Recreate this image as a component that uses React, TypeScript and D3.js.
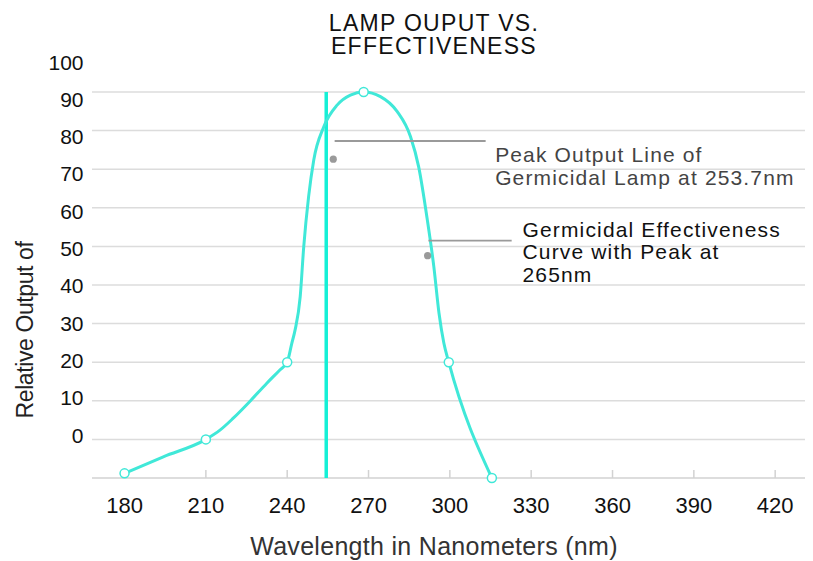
import React from 'react'
import * as d3 from "d3";

// marked points on the germicidal effectiveness curve (wavelength nm, relative output)
const markerWavelengths = [180, 210, 240, 268.2, 299.6, 315.5]
const markerValues = [-8.8, 0, 20, 90, 20, -10]

// points
const curveWavelengths = [180, 194.3, 210, 215.2, 220.1, 226.3, 232.4, 237.3, 240, 241.7, 242.9, 244.8, 246.1, 247.9, 249.8, 253.5, 258.4, 263.3, 268.2, 274.4, 280.6, 285.5, 288.5, 291.7, 294.1, 296, 297.8, 299.6, 315.5]
const curveValues = [-8.8, -4.5, 0, 2.4, 5.5, 9.9, 14.5, 18, 20, 24.9, 28.3, 37, 49.9, 62.9, 72.4, 81, 86.6, 89.2, 90, 88.8, 84.9, 78.4, 70.6, 56.8, 44.7, 32.7, 24.9, 20, -10]

// lamp peak output line
const lampPeak = 254.4

const xTicks = [180, 210, 240, 270, 300, 330, 360, 390, 420]
const gridValues = [-10, 0, 10, 20, 30, 40, 50, 60, 70, 80, 90]
const yTickLabels = [0, 10, 20, 30, 40, 50, 60, 70, 80, 90, 100]

const titleLines = ["LAMP OUPUT VS.", "EFFECTIVENESS"]
const peakNote = ["Peak Output Line of", "Germicidal Lamp at 253.7nm"]
const curveNote = ["Germicidal Effectiveness", "Curve with Peak at", "265nm"]

const font = "'Liberation Sans', Arial, Helvetica, sans-serif"
const curveColor = "#40e8d8"
const lineColor = "#14f0d6"
const noteGray = "#9a9a9a"

function drawChart(svgRef: React.RefObject<SVGSVGElement>) {
  const width = 813
  const height = 561

  const svg = d3.select(svgRef.current)
    .attr("width", width)
    .attr("height", height)
    .attr("font-family", font)

  svg.selectAll("*").remove()

  const x = d3.scaleLinear().domain([168, 431]).range([92, 805])
  const y = d3.scaleLinear().domain([-10, 90]).range([478, 92])
  // the tick labels sit on their own, slightly tighter spacing
  const yLabel = d3.scaleLinear().domain([0, 100]).range([435, 62])

  // title
  svg.append("g")
    .selectAll("text")
    .data(titleLines)
    .join("text")
      .attr("x", 434)
      .attr("y", (d, i) => 30.5 + i * 23.5)
      .attr("text-anchor", "middle")
      .attr("font-size", 23)
      .attr("letter-spacing", 1.3)
      .attr("fill", "#111")
      .text(d => d)

  // grid
  svg.append("g")
    .selectAll("line")
    .data(gridValues)
    .join("line")
      .attr("x1", x.range()[0])
      .attr("x2", x.range()[1])
      .attr("y1", d => y(d))
      .attr("y2", d => y(d))
      .attr("stroke", d => d === -10 ? "#d2d2d2" : "#dcdcdc")
      .attr("stroke-width", 1.5)

  // x ticks
  svg.append("g")
    .selectAll("line")
    .data(xTicks)
    .join("line")
      .attr("x1", d => x(d))
      .attr("x2", d => x(d))
      .attr("y1", y(-10))
      .attr("y2", y(-10) - 8)
      .attr("stroke", "#d2d2d2")
      .attr("stroke-width", 1.5)

  svg.append("g")
    .attr("font-size", 22)
    .attr("fill", "#111")
    .attr("text-anchor", "middle")
    .selectAll("text")
    .data(xTicks)
    .join("text")
      .attr("x", d => x(d))
      .attr("y", 512.5)
      .text(d => d)

  // y labels
  svg.append("g")
    .attr("font-size", 21)
    .attr("fill", "#111")
    .attr("text-anchor", "end")
    .selectAll("text")
    .data(yTickLabels)
    .join("text")
      .attr("x", 83.5)
      .attr("y", d => yLabel(d))
      .attr("dy", "0.36em")
      .text(d => d)

  // axis titles
  svg.append("text")
    .attr("x", 434)
    .attr("y", 555)
    .attr("text-anchor", "middle")
    .attr("font-size", 25)
    .attr("letter-spacing", 0.3)
    .attr("fill", "#333")
    .text("Wavelength in Nanometers (nm)")

  svg.append("text")
    .attr("transform", "translate(33,330) rotate(-90)")
    .attr("text-anchor", "middle")
    .attr("font-size", 23)
    .attr("letter-spacing", -0.4)
    .attr("fill", "#222")
    .text("Relative Output of")

  // lamp peak line
  svg.append("line")
    .attr("x1", x(lampPeak))
    .attr("x2", x(lampPeak))
    .attr("y1", y(90))
    .attr("y2", y(-10))
    .attr("stroke", lineColor)
    .attr("stroke-width", 3.5)

  // effectiveness curve
  const curve = d3.zip(curveWavelengths, curveValues)
  const line = d3.line<number[]>()
    .x(d => x(d[0]))
    .y(d => y(d[1]))
    .curve(d3.curveMonotoneX)

  svg.append("path")
    .datum(curve)
    .attr("fill", "none")
    .attr("stroke", curveColor)
    .attr("stroke-width", 3)
    .attr("stroke-linejoin", "round")
    .attr("d", line)

  svg.append("g")
    .selectAll("circle")
    .data(d3.zip(markerWavelengths, markerValues))
    .join("circle")
      .attr("cx", d => x(d[0]))
      .attr("cy", d => y(d[1]))
      .attr("r", 4.5)
      .attr("fill", "#fff")
      .attr("stroke", curveColor)
      .attr("stroke-width", 1.5)

  // annotations
  const notes = [
    { dot: [257.0, 72.6], lineY: 77.3, lineX: [257.5, 313.2], textX: 316.7, lines: peakNote, color: "#444", top: 161.5, step: 23.5 },
    { dot: [291.8, 47.6], lineY: 51.5, lineX: [292.1, 322.8], textX: 326.8, lines: curveNote, color: "#111", top: 236.5, step: 22.7 },
  ]

  const note = svg.append("g")
    .selectAll("g")
    .data(notes)
    .join("g")

  note.append("line")
    .attr("x1", d => x(d.lineX[0]))
    .attr("x2", d => x(d.lineX[1]))
    .attr("y1", d => y(d.lineY))
    .attr("y2", d => y(d.lineY))
    .attr("stroke", noteGray)
    .attr("stroke-width", 1.8)

  note.append("circle")
    .attr("cx", d => x(d.dot[0]))
    .attr("cy", d => y(d.dot[1]))
    .attr("r", 3.6)
    .attr("fill", noteGray)

  note.each(function(d) {
    d3.select(this).selectAll("text")
      .data(d.lines)
      .join("text")
        .attr("x", x(d.textX))
        .attr("y", (t, i) => d.top + i * d.step)
        .attr("font-size", 21)
        .attr("letter-spacing", 1.15)
        .attr("fill", d.color)
        .text(t => t)
  })

  return svg.node();
}

const App: React.FunctionComponent = () => {
  const svg = React.useRef<SVGSVGElement>(null);

  React.useEffect(() => {
    drawChart(svg);
  }, [svg]);

  return (
    <div id="chart" style={{ position: "absolute", left: 0, top: 0 }}>
      <svg ref={svg} style={{ display: "block" }} />
    </div>
  );
};

export default App
